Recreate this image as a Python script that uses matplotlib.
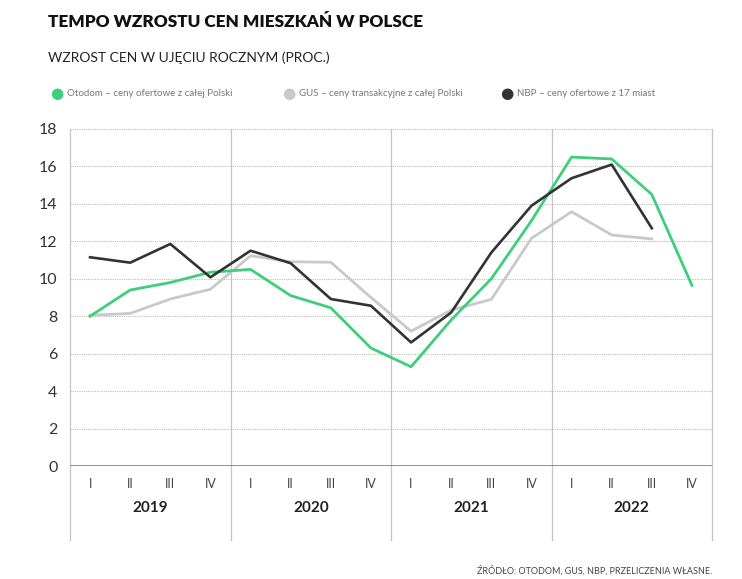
import numpy as np
import matplotlib.pyplot as plt
import matplotlib.transforms as mtransforms

plt.rcParams['font.family'] = ['Lato', 'DejaVu Sans']

# data (year-on-year growth, %)
years = ['2019', '2020', '2021', '2022']
quarters = ['I', 'II', 'III', 'IV']
otodom = [8.0, 9.4, 9.8, 10.35, 10.5, 9.1, 8.45, 6.3, 5.3, 7.8, 10.0, 13.1, 16.5, 16.4, 14.5, 9.65]
gus = [8.05, 8.15, 8.92, 9.44, 11.23, 10.91, 10.88, 9.0, 7.2, 8.33, 8.9, 12.16, 13.58, 12.34, 12.13]
nbp = [11.15, 10.86, 11.86, 10.08, 11.5, 10.83, 8.92, 8.56, 6.6, 8.2, 11.4, 13.9, 15.37, 16.1, 12.7]

labels = ['Otodom – ceny ofertowe z całej Polski',
          'GUS – ceny transakcyjne z całej Polski',
          'NBP – ceny ofertowe z 17 miast']
colors = ['#3ecf7a', '#c9c9c9', '#333333']

fig = plt.figure(figsize=(7.42, 5.79), dpi=100)
ax = fig.add_axes([70 / 742, 1 - 466 / 579, 642 / 742, 337 / 579])

x = np.arange(16)
ax.plot(x[:len(gus)], gus, color=colors[1], lw=2.0, zorder=3)
ax.plot(x[:len(otodom)], otodom, color=colors[0], lw=2.0, zorder=4)
ax.plot(x[:len(nbp)], nbp, color=colors[2], lw=1.9, zorder=5)

ax.set_xlim(-0.5, 15.5)
ax.set_ylim(0, 18)
ax.set_yticks(range(0, 19, 2))
ax.tick_params(axis='y', length=0, pad=9, labelsize=11.5, labelcolor='#333333')
for y in range(2, 19, 2):
    ax.axhline(y, color='#bdbdbd', lw=0.8, ls=(0, (1, 1)), zorder=1)
ax.axhline(0, color='#888888', lw=1.3, zorder=2)

# quarter labels and year separators
ax.set_xticks(x)
ax.set_xticklabels(quarters * len(years))
ax.tick_params(axis='x', length=0, pad=9, labelsize=9, labelcolor='#444444')
for s in ax.spines.values():
    s.set_visible(False)
for b in np.arange(-0.5, 16, 4):
    ax.plot([b, b], [-3.95, 18], color='#c4c4c4', lw=0.9, clip_on=False, zorder=1)

trans = mtransforms.blended_transform_factory(ax.transData, ax.transAxes)
for i, yr in enumerate(years):
    ax.text(i * 4 + 1.5, -0.125, yr, transform=trans, ha='center', va='center',
            fontsize=11, fontweight='bold', color='#222222')

# titles
fig.text(48 / 742, 1 - 22 / 579, 'TEMPO WZROSTU CEN MIESZKAŃ W POLSCE', fontsize=12.3,
         fontweight='heavy', color='#111111', va='center')
fig.text(48 / 742, 1 - 58 / 579, 'WZROST CEN W UJĘCIU ROCZNYM (PROC.)', fontsize=10,
         color='#222222', va='center')

# legend
for lx, lab, c in zip([57, 289, 507], labels, colors):
    fig.text(lx / 742, 1 - 93 / 579, '●', fontsize=11, color=c, va='center', ha='center',
             family='DejaVu Sans')
    fig.text((lx + 10) / 742, 1 - 93 / 579, lab, fontsize=7.0, color='#777777', va='center')

fig.text(712 / 742, 1 - 571 / 579, 'ŹRÓDŁO: OTODOM, GUS, NBP, PRZELICZENIA WŁASNE.',
         fontsize=6.5, color='#444444', ha='right', va='center')

fig.savefig('out.png', dpi=100, facecolor='white')
